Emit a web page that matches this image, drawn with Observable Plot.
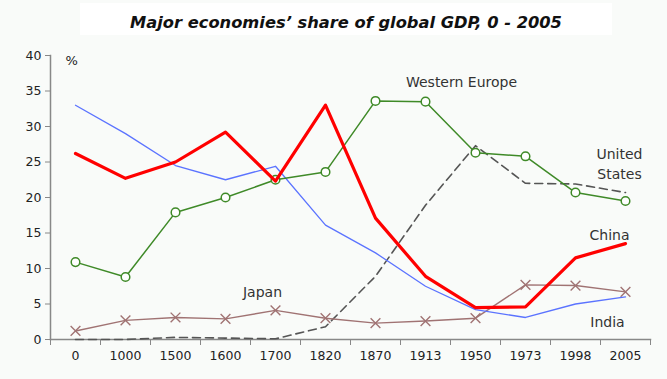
<!DOCTYPE html>
<html>
<head>
<meta charset="utf-8">
<script src="https://cdn.jsdelivr.net/npm/d3@7"></script>
<script src="https://cdn.jsdelivr.net/npm/@observablehq/plot@0.6"></script>
<style>
  html, body { margin: 0; padding: 0; background: #f9fbf9; width: 667px; height: 379px; overflow: hidden; }
  #head { height: 42px; position: relative; }
  #title { position: absolute; left: 80px; top: 3px; width: 532px; height: 28px; padding-top: 4px; background: #ffffff;
    font-family: "DejaVu Sans", sans-serif; font-weight: bold; font-style: italic; font-size: 16.3px;
    color: #111; text-align: center; line-height: 32px; }
  #chart svg { display: block; background: transparent; }
</style>
</head>
<body>
<div id="head"><div id="title">Major economies’ share of global GDP, 0 - 2005</div></div>
<div id="chart"></div>
<script>
const years = ["0", "1000", "1500", "1600", "1700", "1820", "1870", "1913", "1950", "1973", "1998", "2005"];
const china = [26.2, 22.7, 25.0, 29.2, 22.3, 33.0, 17.1, 8.9, 4.5, 4.6, 11.5, 13.5];
const india = [33.0, 29.0, 24.5, 22.5, 24.4, 16.1, 12.2, 7.5, 4.2, 3.1, 5.0, 6.0];
const westernEurope = [10.9, 8.8, 17.9, 20.0, 22.5, 23.6, 33.6, 33.5, 26.3, 25.8, 20.7, 19.5];
const unitedStates = [0.0, 0.0, 0.3, 0.2, 0.1, 1.8, 8.9, 18.9, 27.3, 22.0, 21.9, 20.7];
const japan = [1.2, 2.7, 3.1, 2.9, 4.1, 3.0, 2.3, 2.6, 3.0, 7.7, 7.6, 6.7];
const yTicks = [0, 5, 10, 15, 20, 25, 30, 35, 40];

const labelText = ["Western Europe", "United\nStates", "China", "India", "Japan"];
const labelYear = ["1950", "2005", "2005", "2005", "1700"];
const labelValue = [36.4, 24.9, 14.9, 2.7, 6.85];
const labelShift = [-14, -6, -16, -18, -13];

const rows = (vals) => years.map((y, i) => ({year: y, value: vals[i]}));
const chinaD = rows(china), indiaD = rows(india), weD = rows(westernEurope), usD = rows(unitedStates), jpD = rows(japan);

const labelMarks = labelText.map((t, i) =>
  Plot.text([{year: labelYear[i], value: labelValue[i], text: t}],
    {x: "year", y: "value", text: "text", dx: labelShift[i], fill: "#333", fontSize: 14, lineHeight: 1.4})
);

const font = "DejaVu Sans, sans-serif";
const plot = Plot.plot({
  width: 667,
  height: 337,
  marginTop: 13,
  marginBottom: 40,
  marginLeft: 50,
  marginRight: 17,
  style: {fontFamily: font, fontSize: "12.5px", background: "transparent", color: "#222"},
  x: {type: "point", domain: years, padding: 0.5},
  y: {domain: [0, 40]},
  marks: [
    Plot.frame({anchor: "left", stroke: "#888", strokeWidth: 1.5}),
    Plot.frame({anchor: "bottom", stroke: "#888", strokeWidth: 1.5}),
    Plot.axisY({ticks: yTicks, tickSize: 5, tickPadding: 4, stroke: "#888", label: null, fill: "#222"}),
    Plot.axisX({tickSize: 6, tickFormat: null, dx: -25, stroke: "#888", label: null}),
    Plot.axisX({ticks: [years[years.length - 1]], tickSize: 6, tickFormat: null, dx: 25, stroke: "#888", label: null}),
    Plot.axisX({tickSize: 0, tickPadding: 12, label: null, fill: "#222"}),
    Plot.text(["%"], {frameAnchor: "top-left", dx: 15, dy: 0, fill: "#222", fontSize: 13}),
    Plot.line(usD, {x: "year", y: "value", stroke: "#555", strokeWidth: 1.6, strokeDasharray: "8,5"}),
    Plot.line(jpD, {x: "year", y: "value", stroke: "#a07373", strokeWidth: 1.4}),
    Plot.dot(jpD, {x: "year", y: "value", symbol: "times", r: 4.5, stroke: "#a07373", strokeWidth: 1.4}),
    Plot.line(indiaD, {x: "year", y: "value", stroke: "#5b73ff", strokeWidth: 1.3}),
    Plot.line(weD, {x: "year", y: "value", stroke: "#3f8a28", strokeWidth: 1.5}),
    Plot.dot(weD, {x: "year", y: "value", r: 4.3, stroke: "#3f8a28", fill: "white", strokeWidth: 1.5}),
    Plot.line(chinaD, {x: "year", y: "value", stroke: "#ff0000", strokeWidth: 3.2}),
    ...labelMarks
  ]
});
document.getElementById("chart").appendChild(plot);
</script>
</body>
</html>
